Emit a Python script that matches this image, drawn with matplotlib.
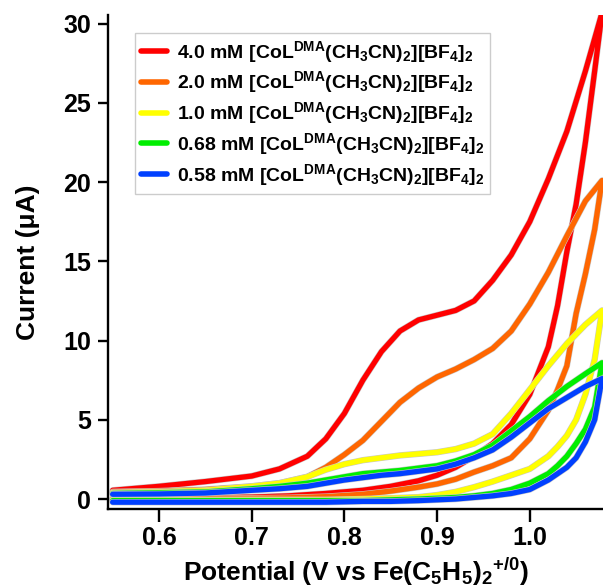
import matplotlib
matplotlib.use("Agg")
import matplotlib.pyplot as plt
import matplotlib.patheffects as pe

plt.rcParams["font.family"] = ["Liberation Sans", "DejaVu Sans"]
plt.rcParams["font.weight"] = "bold"
plt.rcParams["mathtext.fontset"] = "custom"
plt.rcParams["mathtext.rm"] = "Liberation Sans:bold"
plt.rcParams["mathtext.it"] = "Liberation Sans:bold"
plt.rcParams["mathtext.bf"] = "Liberation Sans:bold"

# forward (anodic) sweep potentials, V vs Fc+/0
E_fwd = [0.55, 0.60, 0.65, 0.70, 0.73, 0.76, 0.78, 0.80, 0.82, 0.84, 0.86,
         0.88, 0.90, 0.92, 0.94, 0.96, 0.98, 1.00, 1.02, 1.04, 1.06, 1.078]
# reverse sweep potentials
E_rev = [1.078, 1.07, 1.06, 1.05, 1.04, 1.03, 1.02, 1.00, 0.98, 0.96, 0.94,
         0.92, 0.90, 0.88, 0.85, 0.82, 0.78, 0.74, 0.70, 0.65, 0.60, 0.55]

# currents in uA
i_40_fwd = [0.55, 0.8, 1.1, 1.45, 1.9, 2.7, 3.8, 5.4, 7.5, 9.3, 10.6,
            11.3, 11.6, 11.9, 12.5, 13.8, 15.4, 17.5, 20.2, 23.2, 27.0, 30.7]
i_40_rev = [30.7, 27.0, 22.5, 18.6, 15.6, 12.2, 9.6, 6.6, 4.7, 3.5, 2.7,
            2.0, 1.5, 1.15, 0.8, 0.55, 0.35, 0.2, 0.12, 0.08, 0.05, 0.05]

i_20_fwd = [0.45, 0.5, 0.6, 0.8, 1.0, 1.4, 2.0, 2.8, 3.7, 4.9, 6.1,
            7.0, 7.7, 8.2, 8.8, 9.5, 10.6, 12.3, 14.3, 16.6, 18.8, 20.1]
i_20_rev = [20.1, 17.0, 14.2, 11.7, 8.4, 6.9, 5.6, 3.8, 2.6, 2.1, 1.7,
            1.25, 0.95, 0.75, 0.5, 0.3, 0.15, 0.08, 0.05, 0.03, 0.0, 0.0]

i_10_fwd = [0.4, 0.45, 0.55, 0.8, 1.0, 1.4, 1.85, 2.2, 2.45, 2.6, 2.75,
            2.85, 2.95, 3.15, 3.5, 4.1, 5.4, 6.9, 8.4, 9.8, 11.0, 11.9]
i_10_rev = [11.9, 8.8, 6.6, 5.0, 4.0, 3.3, 2.7, 1.9, 1.5, 1.1, 0.75,
            0.45, 0.25, 0.12, 0.05, 0.0, -0.05, -0.05, -0.05, -0.05, -0.05, -0.05]

i_068_fwd = [0.35, 0.4, 0.45, 0.65, 0.8, 1.0, 1.2, 1.4, 1.6, 1.7, 1.8,
             1.95, 2.1, 2.4, 2.8, 3.4, 4.3, 5.2, 6.2, 7.1, 7.9, 8.6]
i_068_rev = [8.6, 5.8, 4.4, 3.5, 2.7, 2.1, 1.6, 1.0, 0.6, 0.35, 0.2,
             0.1, 0.05, 0.0, -0.05, -0.1, -0.1, -0.1, -0.1, -0.1, -0.1, -0.1]

i_058_fwd = [0.3, 0.32, 0.38, 0.55, 0.65, 0.8, 1.0, 1.2, 1.35, 1.5, 1.6,
             1.75, 1.9, 2.2, 2.6, 3.1, 3.9, 4.8, 5.7, 6.4, 7.1, 7.6]
i_058_rev = [7.6, 5.0, 3.6, 2.6, 2.0, 1.6, 1.2, 0.6, 0.35, 0.2, 0.1,
             0.0, -0.05, -0.1, -0.15, -0.15, -0.2, -0.2, -0.2, -0.2, -0.2, -0.2]

conc_labels = ["4.0", "2.0", "1.0", "0.68", "0.58"]
colors = ["#ff0000", "#ff6600", "#ffff00", "#00ee00", "#0040ff"]
fwd_sets = [i_40_fwd, i_20_fwd, i_10_fwd, i_068_fwd, i_058_fwd]
rev_sets = [i_40_rev, i_20_rev, i_10_rev, i_068_rev, i_058_rev]

species = r" mM [CoL$^{DMA}$(CH$_3$CN)$_2$][BF$_4$]$_2$"


def main():
    fig = plt.figure(figsize=(6.03, 5.88), dpi=100)
    ax = fig.add_axes([108 / 603, 79 / 588, 495 / 603, 494 / 588])

    halo = [pe.Stroke(linewidth=4.6, foreground="#c8c8c8"), pe.Normal()]
    for conc, col, fwd, rev in zip(conc_labels, colors, fwd_sets, rev_sets):
        ax.plot(E_fwd + E_rev, fwd + rev, color=col, lw=3.8,
                solid_joinstyle="round", solid_capstyle="round",
                path_effects=halo, label=conc + species)

    ax.set_xlim(0.545, 1.079)
    ax.set_ylim(-0.63, 30.54)
    ax.set_xticks([0.6, 0.7, 0.8, 0.9, 1.0])
    ax.set_xticklabels(["0.6", "0.7", "0.8", "0.9", "1.0"])
    ax.set_yticks([0, 5, 10, 15, 20, 25, 30])

    for side in ["top", "right"]:
        ax.spines[side].set_visible(False)
    for side in ["left", "bottom"]:
        ax.spines[side].set_linewidth(1.7)
    ax.tick_params(direction="out", width=1.7, labelsize=18)
    ax.tick_params(axis="x", length=9.5, pad=3)
    ax.tick_params(axis="y", length=7, pad=5)

    ax.set_xlabel(r"Potential (V vs Fe(C$_5$H$_5$)$_2$$^{+/0}$)",
                  fontsize=19, fontweight="bold", labelpad=4)
    ax.set_ylabel("Current (\u03bcA)", fontsize=19, fontweight="bold", labelpad=17)

    leg = ax.legend(loc="upper left", bbox_to_anchor=(27 / 495, 476 / 494),
                    borderaxespad=0, fontsize=14, handlelength=1.35,
                    handletextpad=0.5, labelspacing=0.25, borderpad=0.3,
                    fancybox=False, framealpha=1)
    leg.get_frame().set_edgecolor("#cccccc")
    leg.get_frame().set_linewidth(1.0)
    for line in leg.get_lines():
        line.set_linewidth(4)
        line.set_path_effects([])

    fig.savefig("out.png", dpi=100)
    plt.close(fig)


if __name__ == "__main__":
    main()
